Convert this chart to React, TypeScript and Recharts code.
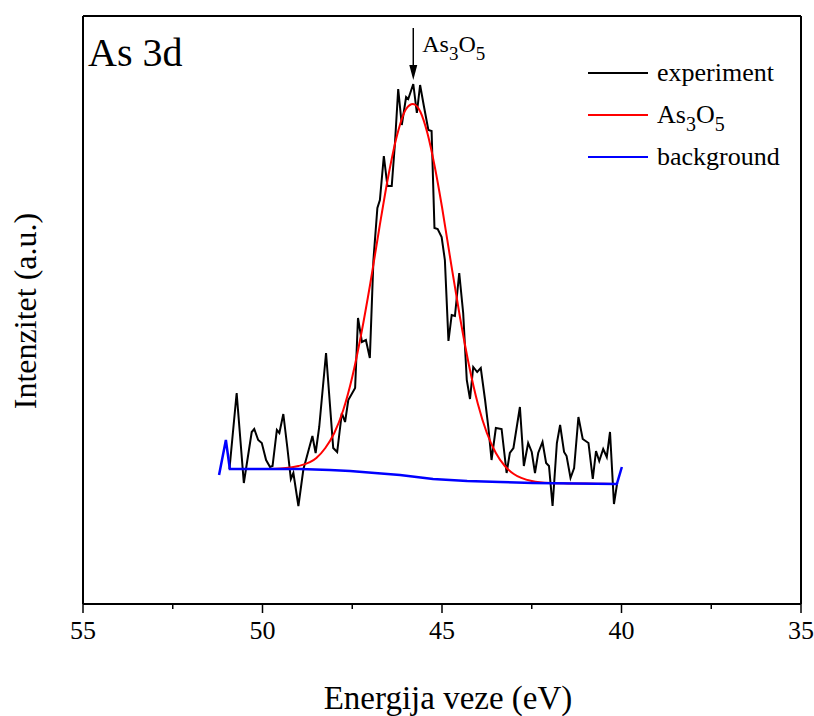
import React from 'react';
import {
    ComposedChart,
    Line,
    XAxis,
    YAxis,
    ReferenceLine,
    Legend,
    Customized
} from 'recharts';

const serif = '"Liberation Serif", "Times New Roman", serif';

// measured spectrum (binding energy in eV, intensity in a.u.)
const expEnergy = [
    50.92, 50.72, 50.52, 50.30, 50.23, 50.12, 50.02, 49.90, 49.79, 49.72,
    49.60, 49.53, 49.42, 49.31, 49.21, 49.14, 49.00, 48.86, 48.79, 48.61,
    48.52, 48.42, 48.23, 48.03, 47.92, 47.79, 47.70, 47.61, 47.42, 47.34,
    47.23, 47.12, 47.01, 46.91, 46.80, 46.73, 46.62, 46.52, 46.40, 46.31,
    46.22, 46.12, 46.00, 45.94, 45.80, 45.70, 45.61, 45.50, 45.38, 45.29,
    45.21, 45.12, 45.01, 44.92, 44.82, 44.73, 44.64, 44.52, 44.41, 44.31,
    44.22, 44.13, 44.02, 43.92, 43.80, 43.71, 43.62, 43.50, 43.34, 43.20,
    43.11, 43.01, 42.83, 42.72, 42.60, 42.50, 42.41, 42.32, 42.20, 42.10,
    42.02, 41.92, 41.80, 41.71, 41.60, 41.53, 41.42, 41.32, 41.20, 41.08,
    40.92, 40.80, 40.71, 40.62, 40.51, 40.41, 40.32, 40.21, 40.12
];
const expCounts = [
    135, 211, 121, 172, 175, 164, 161, 144, 137, 138,
    174, 171, 190, 157, 125, 131, 98, 135, 144, 168,
    151, 177, 251, 156, 152, 191, 182, 204, 216, 286,
    262, 264, 246, 344, 396, 404, 448, 418, 418, 461,
    515, 479, 507, 505, 520, 491, 519, 497, 474, 473,
    376, 375, 367, 344, 263, 289, 288, 331, 291, 224,
    205, 237, 232, 236, 204, 177, 144, 176, 175, 131,
    151, 156, 197, 138, 161, 152, 131, 151, 162, 141,
    138, 98, 161, 179, 152, 148, 126, 136, 187, 165,
    161, 125, 153, 143, 155, 147, 172, 100, 121
];

// fitted As3O5 component
const fitEnergy = [
    50.9, 50.5, 50.0, 49.5, 49.0, 48.5, 48.25, 48.0, 47.75, 47.5,
    47.25, 47.0, 46.75, 46.5, 46.25, 46.0, 45.81, 45.6, 45.4, 45.2,
    45.0, 44.75, 44.5, 44.25, 44.0, 43.75, 43.5, 43.25, 43.0, 42.5,
    42.0, 41.5, 41.0, 40.5, 40.2
];
const fitCounts = [
    135, 135, 135, 135.5, 138, 146, 156, 171, 194, 227,
    270, 320, 375, 427, 469, 495, 500, 492, 470, 437,
    397, 341, 287, 239, 200, 171, 151, 138, 130, 123,
    121, 120.6, 120.4, 120.2, 120
];

// background
const bgEnergy = [51.21, 51.02, 50.91, 48.96, 48.12, 47.56, 46.87, 46.17, 45.25, 44.30, 43.38, 42.47, 40.13, 39.99];
const bgCounts = [129, 164, 135, 135, 134, 133, 131, 129, 125, 123, 122, 121, 120, 137];

const majorTicks = [55, 50, 45, 40, 35];
const allTicks = [55, 52.5, 50, 47.5, 45, 42.5, 40, 37.5, 35];
const legendOrder = ['experiment', 'As3O5', 'background'];
const yDomain = [0, 588];
const peakLabel = 45.8;

const expData = expEnergy.map((x, i) => ({ x, y: expCounts[i] }));
const fitData = fitEnergy.map((x, i) => ({ x, y: fitCounts[i] }));
const bgData = bgEnergy.map((x, i) => ({ x, y: bgCounts[i] }));

const subStyle: React.CSSProperties = { fontSize: 20, position: 'relative', top: 8, verticalAlign: 'baseline' };

const renderLegend = (props: any) => {
    const items = [...(props.payload || [])].sort(
        (a: any, b: any) => legendOrder.indexOf(a.value) - legendOrder.indexOf(b.value)
    );
    return (
        <div style={{ fontFamily: serif, fontSize: 26, color: '#000' }}>
            {items.map((entry: any) => (
                <div key={entry.value} style={{ display: 'flex', alignItems: 'center', height: 42 }}>
                    <span style={{ display: 'inline-block', width: 60, borderTop: `2px solid ${entry.color}`, marginRight: 9 }} />
                    {entry.value === 'As3O5' ? (
                        <span>
                            As<span style={subStyle}>3</span>O<span style={subStyle}>5</span>
                        </span>
                    ) : (
                        <span>{entry.value}</span>
                    )}
                </div>
            ))}
        </div>
    );
};

const BottomTick = (props: any) => {
    const { x, y, payload } = props;
    const axisY = y - 11;
    const major = majorTicks.includes(payload.value);
    return (
        <g>
            <line x1={x} x2={x} y1={axisY} y2={axisY + (major ? 9 : 5)} stroke="#000" strokeWidth={1.5} />
            {major && (
                <text x={x} y={axisY + 35} textAnchor="middle" fontFamily={serif} fontSize={26} fill="#000">
                    {payload.value}
                </text>
            )}
        </g>
    );
};

const PeakArrow = (props: any) => {
    const { x1, y1, x2, y2 } = props;
    return (
        <g>
            <line x1={x1} y1={y1} x2={x2} y2={y2 - 10} stroke="#000" strokeWidth={1.5} />
            <polygon points={`${x2 - 4},${y2 - 15} ${x2 + 4},${y2 - 15} ${x2},${y2}`} fill="#000" />
            <text x={x1 + 9} y={y1 + 24} fontFamily={serif} fontSize={24} fill="#000">
                As<tspan dy={8} fontSize={19}>3</tspan>
                <tspan dy={-8}>O</tspan>
                <tspan dy={8} fontSize={19}>5</tspan>
            </text>
        </g>
    );
};

const Titles = () => (
    <g fontFamily={serif} fill="#000">
        <text x={88} y={66} fontSize={40}>As 3d</text>
        <text x={448} y={709} fontSize={33} textAnchor="middle">Energija veze (eV)</text>
        <text x={36} y={311} fontSize={32} textAnchor="middle" transform="rotate(-90 36 311)">
            Intenzitet (a.u.)
        </text>
    </g>
);

export default function App() {
    return (
        <div style={{ position: 'absolute', left: 0, top: 0, background: '#fff' }}>
            <ComposedChart
                width={814}
                height={716}
                margin={{ top: 16, right: 13, bottom: 72, left: 83 }}
            >
                <XAxis
                    xAxisId="b"
                    type="number"
                    dataKey="x"
                    domain={[35, 55]}
                    reversed
                    allowDataOverflow
                    ticks={allTicks}
                    interval={0}
                    height={40}
                    tickSize={9}
                    tickMargin={2}
                    tickLine={false}
                    tick={<BottomTick />}
                    axisLine={{ stroke: '#000', strokeWidth: 2 }}
                />
                <XAxis
                    xAxisId="t"
                    type="number"
                    dataKey="x"
                    orientation="top"
                    mirror
                    domain={[35, 55]}
                    reversed
                    allowDataOverflow
                    ticks={allTicks}
                    interval={0}
                    tickSize={5}
                    tick={false}
                    tickLine={{ stroke: '#000', strokeWidth: 1.5 }}
                    axisLine={{ stroke: '#000', strokeWidth: 2 }}
                />
                <YAxis
                    yAxisId="l"
                    type="number"
                    domain={yDomain}
                    allowDataOverflow
                    mirror
                    tick={false}
                    tickLine={false}
                    axisLine={{ stroke: '#000', strokeWidth: 2 }}
                />
                <YAxis
                    yAxisId="r"
                    type="number"
                    orientation="right"
                    domain={yDomain}
                    allowDataOverflow
                    mirror
                    tick={false}
                    tickLine={false}
                    axisLine={{ stroke: '#000', strokeWidth: 2 }}
                />
                <Line
                    xAxisId="b"
                    yAxisId="l"
                    data={expData}
                    dataKey="y"
                    name="experiment"
                    type="linear"
                    stroke="#000000"
                    strokeWidth={2}
                    dot={false}
                    isAnimationActive={false}
                />
                <Line
                    xAxisId="b"
                    yAxisId="l"
                    data={fitData}
                    dataKey="y"
                    name="As3O5"
                    type="monotone"
                    stroke="#ff0000"
                    strokeWidth={2}
                    dot={false}
                    isAnimationActive={false}
                />
                <Line
                    xAxisId="b"
                    yAxisId="l"
                    data={bgData}
                    dataKey="y"
                    name="background"
                    type="linear"
                    stroke="#0000ff"
                    strokeWidth={2.5}
                    dot={false}
                    isAnimationActive={false}
                />
                <ReferenceLine
                    xAxisId="b"
                    yAxisId="l"
                    segment={[{ x: peakLabel, y: 576 }, { x: peakLabel, y: 524 }]}
                    shape={<PeakArrow />}
                    ifOverflow="visible"
                />
                <Legend
                    content={renderLegend}
                    layout="horizontal"
                    verticalAlign="middle"
                    align="center"
                    wrapperStyle={{ left: 588, top: 52, width: 220 }}
                />
                <Customized component={<Titles />} />
            </ComposedChart>
        </div>
    );
}
